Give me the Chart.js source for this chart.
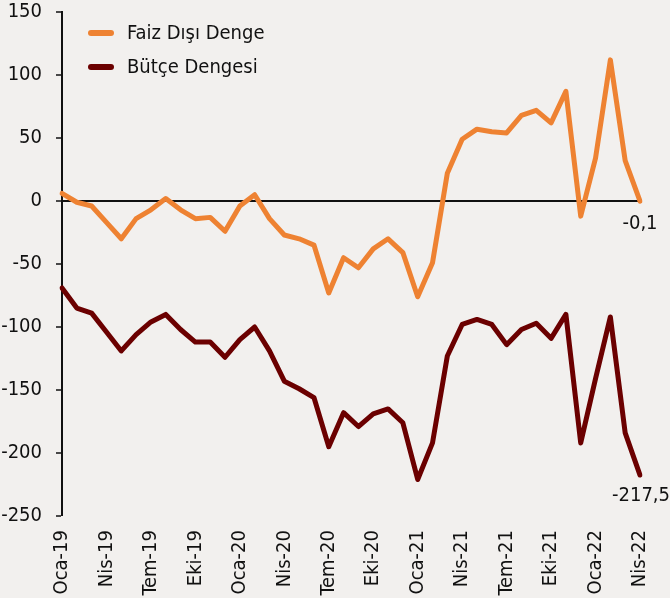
<!DOCTYPE html>
<html>
<head>
<meta charset="utf-8">
<script src="https://cdn.jsdelivr.net/npm/chart.js@4.4.1/dist/chart.umd.min.js"></script>
<style>
  html, body { margin: 0; padding: 0; background: #F2F0EE; }
  #wrap { width: 670px; height: 598px; position: relative; }
</style>
</head>
<body>
<div id="wrap"><canvas id="c" width="670" height="598"></canvas></div>
<script>
const months = ["Oca","Şub","Mar","Nis","May","Haz","Tem","Ağu","Eyl","Eki","Kas","Ara"];
const categories = [];
for (let y = 19; y <= 22; y++) {
  for (let m = 0; m < 12; m++) {
    if (y === 22 && m > 3) break;
    categories.push(months[m] + "-" + y);
  }
}
const faizDisiDenge = [6, -1, -4, -17, -30, -14, -7, 2, -7, -14, -13, -24, -4, 5, -14, -27, -30, -35, -73,
  -45, -53, -38, -30, -41, -76, -49, 22, 49, 57, 55, 54, 68, 72, 62, 87, -12, 34, 112, 32, -0.1];
const butceDengesi = [-69, -85, -89, -104, -119, -106, -96, -90, -102, -112, -112, -124, -110, -100, -119, -143, -149, -156, -195,
  -168, -179, -169, -165, -176, -221, -192, -123, -98, -94, -98, -114, -102, -97, -109, -90, -192, -141, -92, -184, -217.5];
const seriesNames = ["Faiz Dışı Denge", "Bütçe Dengesi"];
const yTicks = [150, 100, 50, 0, -50, -100, -150, -200, -250];

const FONT = "'DejaVu Sans Condensed', 'DejaVu Sans', sans-serif";
const FS = 20;
const colors = ["#EE8232", "#6B0000"];

const overlay = {
  id: "overlay",
  afterDatasetsDraw(chart) {
    const ctx = chart.ctx;
    ctx.save();
    const items = [[seriesNames[0], colors[0], 33], [seriesNames[1], colors[1], 67]];
    items.forEach(([label, col, y]) => {
      ctx.strokeStyle = col;
      ctx.lineWidth = 6;
      ctx.lineCap = "round";
      ctx.beginPath();
      ctx.moveTo(91, y);
      ctx.lineTo(111, y);
      ctx.stroke();
      ctx.fillStyle = "#111";
      ctx.font = FS + "px " + FONT;
      ctx.textAlign = "left";
      ctx.textBaseline = "middle";
      ctx.fillText(label, 127, y + 1);
    });
    const xs = chart.scales.x, ys = chart.scales.y;
    const last = categories.length - 1;
    ctx.fillStyle = "#111";
    ctx.font = FS + "px " + FONT;
    ctx.textAlign = "center";
    ctx.textBaseline = "middle";
    const fmt = v => String(v).replace(".", ",");
    ctx.fillText(fmt(faizDisiDenge[last]), xs.getPixelForValue(last), ys.getPixelForValue(faizDisiDenge[last]) + 23);
    ctx.fillText(fmt(butceDengesi[last]), xs.getPixelForValue(last) + 1, ys.getPixelForValue(butceDengesi[last]) + 21);
    ctx.restore();
  }
};

new Chart(document.getElementById("c"), {
  type: "line",
  data: {
    labels: categories,
    datasets: [
      { label: seriesNames[0], data: faizDisiDenge, borderColor: colors[0], borderWidth: 5, pointRadius: 0, tension: 0, borderJoinStyle: "round", borderCapStyle: "round" },
      { label: seriesNames[1], data: butceDengesi, borderColor: colors[1], borderWidth: 5, pointRadius: 0, tension: 0, borderJoinStyle: "round", borderCapStyle: "round" }
    ]
  },
  options: {
    responsive: false,
    animation: false,
    layout: { padding: { top: 12, right: 30, left: 0, bottom: 0 } },
    plugins: { legend: { display: false }, tooltip: { enabled: false } },
    scales: {
      x: {
        offset: false,
        grid: { display: false },
        border: { display: false },
        ticks: {
          autoSkip: false,
          maxRotation: 90, minRotation: 90,
          color: "#111",
          font: { family: FONT, size: FS },
          padding: 6,
          callback: function(v, i) { return i % 3 === 0 ? categories[i] : ""; }
        },
        afterFit: s => { s.height = 82; }
      },
      y: {
        min: -250, max: 150,
        afterBuildTicks: s => { s.ticks = yTicks.map(v => ({ value: v })); },
        grid: {
          drawOnChartArea: true,
          color: c => c.tick && c.tick.value === 0 ? "#111" : "rgba(0,0,0,0)",
          lineWidth: c => c.tick && c.tick.value === 0 ? 2 : 0,
          tickColor: "#111",
          tickLength: 6,
          tickWidth: 1.5
        },
        border: { display: true, color: "#111", width: 2 },
        ticks: {
          color: "#111",
          font: { family: FONT, size: FS },
          padding: 14,
          callback: v => String(v)
        },
        afterFit: s => { s.width = 62; s.paddingTop = 0; s.paddingBottom = 0; }
      }
    }
  },
  plugins: [overlay]
});
</script>
</body>
</html>
